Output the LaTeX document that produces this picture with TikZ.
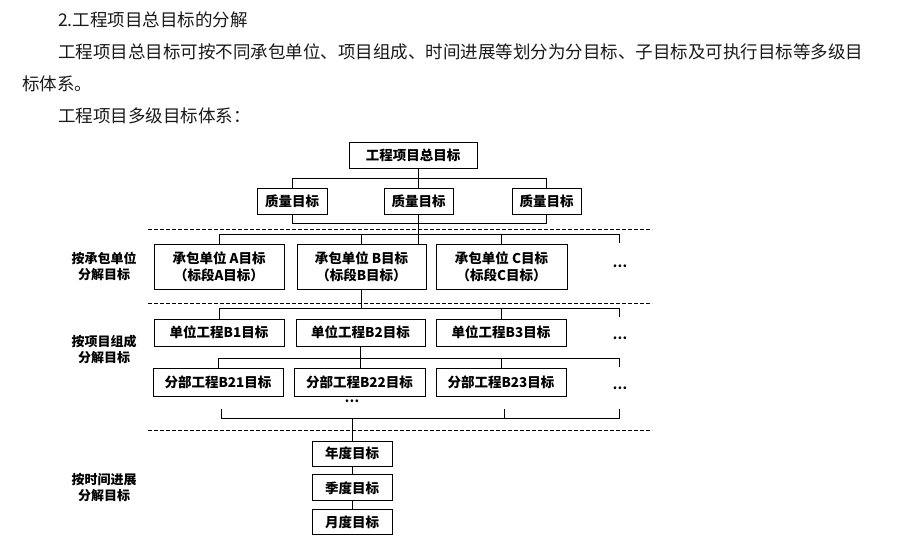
\documentclass[tikz,border=0pt]{standalone}
\usepackage{fontspec}
\setmainfont{Noto Sans CJK SC}
\usetikzlibrary{positioning}

\begin{document}
\begin{tikzpicture}[x=1pt,y=-1pt,
    box/.style={draw,line width=0.9pt,inner sep=0pt,align=center,
        font=\bfseries\fontsize{13.5}{17}\selectfont},
    lbl/.style={align=center,font=\bfseries\fontsize{13}{16}\selectfont},
    para/.style={anchor=west,inner sep=0pt,text=black!90,
        font=\fontsize{17.5}{20}\selectfont},
    divider/.style={line width=0.7pt,dash pattern=on 4pt off 2pt},
    wire/.style={line width=0.8pt}]
        \useasboundingbox (0,0) rectangle (900,547);

        % text above the chart
        \node[para] (t1) at (58,20) {2.工程项目总目标的分解};
        \node[para] (t2) at (58,52) {工程项目总目标可按不同承包单位、项目组成、时间进展等划分为分目标、子目标及可执行目标等多级目};
        \node[para] (t3) at (22,84) {标体系。};
        \node[para] (t4) at (58,116) {工程项目多级目标体系：};

        % top levels
        \node[box,minimum width=128,minimum height=26] (top) at (413,155) {工程项目总目标};
        \node[box,minimum width=70,minimum height=26] (q1) at (292,201) {质量目标};
        \node[box,minimum width=69,minimum height=26] (q2) at (418.5,201) {质量目标};
        \node[box,minimum width=69,minimum height=26] (q3) at (546.5,201) {质量目标};

        % by contractor
        \node[box,minimum width=130,minimum height=45] (cA) at (219,266.5) {承包单位 A目标\\（标段A目标）};
        \node[box,minimum width=129,minimum height=45] (cB) at (361.5,266.5) {承包单位 B目标\\（标段B目标）};
        \node[box,minimum width=131,minimum height=45] (cC) at (501.5,266.5) {承包单位 C目标\\（标段C目标）};
        \node[lbl] (dc) at (620,266) {…};

        % by project composition
        \node[box,minimum width=130,minimum height=27] (u1) at (219,332.5) {单位工程B1目标};
        \node[box,minimum width=129,minimum height=27] (u2) at (360.5,332.5) {单位工程B2目标};
        \node[box,minimum width=130,minimum height=27] (u3) at (501,332.5) {单位工程B3目标};
        \node[lbl] (du) at (620,338) {…};
        \node[box,minimum width=130,minimum height=28] (s1) at (218,382) {分部工程B21目标};
        \node[box,minimum width=131,minimum height=28] (s2) at (359.5,382) {分部工程B22目标};
        \node[box,minimum width=130,minimum height=28] (s3) at (501,382) {分部工程B23目标};
        \node[lbl] (ds) at (620,388) {…};
        \node[lbl] (dn) at (352,401) {…};

        % by time
        \node[box,minimum width=80,minimum height=25] (yr) at (352,453.5) {年度目标};
        \node[box,minimum width=80,minimum height=26,below=8pt of yr] (qt) {季度目标};
        \node[box,minimum width=80,minimum height=25,below=8pt of qt] (mo) {月度目标};

        % row labels
        \node[lbl] (l1) at (104,266) {按承包单位\\分解目标};
        \node[lbl] (l2) at (104,349) {按项目组成\\分解目标};
        \node[lbl] (l3) at (104,488) {按时间进展\\分解目标};

        % dashed dividers
        \foreach \y in {229,303,430}
            \draw[divider] (148,\y) -- (652,\y);

        % buses
        \coordinate (b1) at (0,178);
        \coordinate (b2) at (0,223);
        \coordinate (b3) at (0,234);
        \coordinate (b4) at (0,308);
        \coordinate (b5) at (0,358);
        \coordinate (b6) at (0,418);
        \coordinate (m1) at (619,243);
        \coordinate (m2) at (619,317);
        \coordinate (m3) at (619,367);
        \coordinate (m4) at (619,409);
        \coordinate (m5) at (221,409);
        \coordinate (m6) at (504,409);

        \draw[wire] (q2.north |- top.south) -- (q2.north);
        \draw[wire] (q1.north) |- (b1 -| q3.north) -- (q3.north);
        \draw[wire] (q1.south) |- (b2 -| q3.south) -- (q3.south);
        \draw[wire] (q2.south) -- (q2.south |- cB.north);

        \draw[wire] (cA.north) |- (b3 -| m1) -- (m1);
        \draw[wire] (cB.north) -- (cB.north |- b3);
        \draw[wire] (cC.north) -- (cC.north |- b3);

        \draw[wire] (cB.south) -- (cB.south |- b4);
        \draw[wire] (u1.north) |- (b4 -| m2) -- (m2);
        \draw[wire] (u3.north) -- (u3.north |- b4);

        \draw[wire] (u2.south) -- (u2.south |- s2.north);
        \draw[wire] (s1.north) |- (b5 -| m3) -- (m3);
        \draw[wire] (s3.north) -- (s3.north |- b5);

        \draw[wire] (m5) |- (b6 -| m4) -- (m4);
        \draw[wire] (m6) -- (m6 |- b6);
        \draw[wire] (yr.north |- b6) -- (yr.north);
        \draw[wire] (yr) -- (qt);
        \draw[wire] (qt) -- (mo);
\end{tikzpicture}
\end{document}
